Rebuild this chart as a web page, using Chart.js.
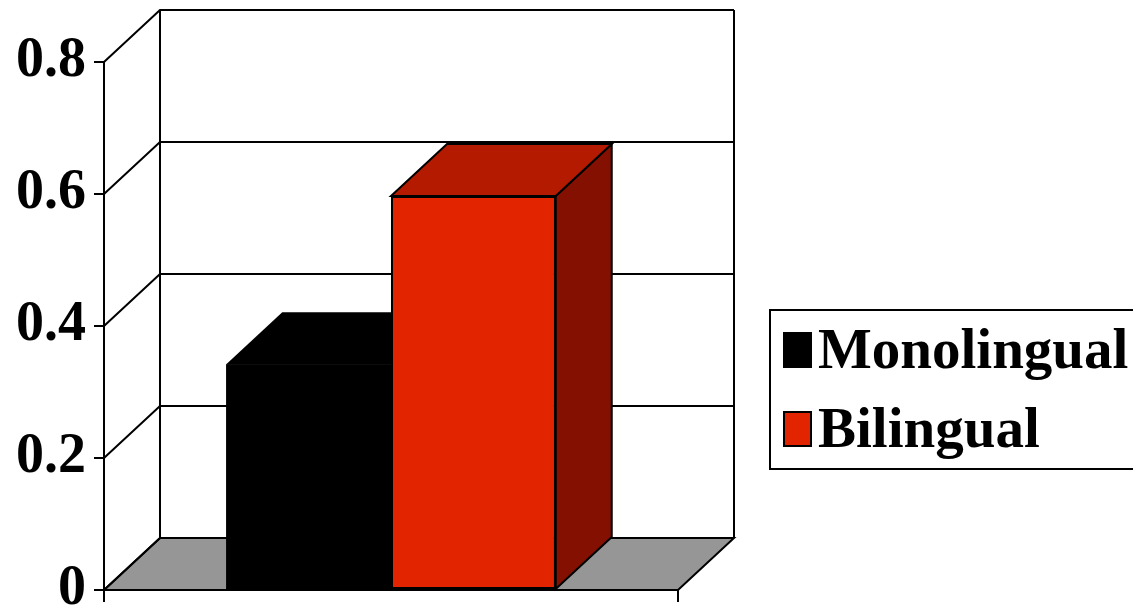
<!DOCTYPE html>
<html>
<head>
<meta charset="utf-8">
<script src="https://cdn.jsdelivr.net/npm/chart.js@4/dist/chart.umd.min.js"></script>
<style>
  html, body { margin: 0; padding: 0; background: #ffffff; overflow: hidden; }
  #wrap { width: 1133px; height: 608px; }
</style>
</head>
<body>
<div id="wrap"><canvas id="c" width="1133" height="608"></canvas></div>
<script>
// Data
const categories = [''];
const seriesNames = ['Monolingual', 'Bilingual'];
const monolingual = [0.342];
const bilingual = [0.597];
const yTickLabels = ['0', '0.2', '0.4', '0.6', '0.8'];

// Styling
const FONT = '"Liberation Serif", "Times New Roman", serif';
const DEPTH_X = 56;    // horizontal shift of the back plane
const DEPTH_Y = -52;   // vertical shift of the back plane
const faces = [
  { front: '#000000', top: '#000000', side: '#000000' },
  { front: '#e32400', top: '#b31a00', side: '#831000' }
];

function poly(ctx, pts, fill, stroke, lw) {
  ctx.beginPath();
  ctx.moveTo(pts[0][0], pts[0][1]);
  for (let i = 1; i < pts.length; i++) ctx.lineTo(pts[i][0], pts[i][1]);
  ctx.closePath();
  if (fill) { ctx.fillStyle = fill; ctx.fill(); }
  if (stroke) { ctx.strokeStyle = stroke; ctx.lineWidth = lw; ctx.lineJoin = 'miter'; ctx.stroke(); }
}

// Walls, floor and gridlines of the 3-D box
const wallsPlugin = {
  id: 'walls',
  beforeDraw(chart) {
    const ctx = chart.ctx;
    const { left, right } = chart.chartArea;
    const ys = chart.scales.y;
    const y0 = ys.getPixelForValue(ys.min);
    const yMax = ys.getPixelForValue(ys.max);
    ctx.save();
    ctx.fillStyle = '#ffffff';
    ctx.fillRect(0, 0, chart.width, chart.height);

    // floor
    poly(ctx, [[left, y0], [right, y0], [right + DEPTH_X, y0 + DEPTH_Y], [left + DEPTH_X, y0 + DEPTH_Y]],
      '#969696', '#000000', 2);

    // gridlines on the side and back walls
    ctx.strokeStyle = '#000000';
    ctx.lineWidth = 2;
    ys.ticks.forEach(t => {
      const py = ys.getPixelForValue(t.value);
      ctx.beginPath();
      ctx.moveTo(left, py);
      ctx.lineTo(left + DEPTH_X, py + DEPTH_Y);
      ctx.lineTo(right + DEPTH_X, py + DEPTH_Y);
      ctx.stroke();
    });
    // back wall frame
    ctx.beginPath();
    ctx.moveTo(left + DEPTH_X, y0 + DEPTH_Y);
    ctx.lineTo(left + DEPTH_X, yMax + DEPTH_Y);
    ctx.moveTo(right + DEPTH_X, yMax + DEPTH_Y);
    ctx.lineTo(right + DEPTH_X, y0 + DEPTH_Y);
    ctx.stroke();
    ctx.restore();
  }
};

// Solid boxes: front face from the bar element, then its side and top faces,
// series by series from left to right so nearer boxes overlap correctly
const extrudePlugin = {
  id: 'extrude',
  afterDatasetsDraw(chart) {
    const ctx = chart.ctx;
    chart.data.datasets.forEach((ds, i) => {
      const meta = chart.getDatasetMeta(i);
      const f = faces[i];
      const stroke = ds.borderWidth > 0 ? '#000000' : null;
      meta.data.forEach(el => {
        const { x, y, base, width } = el.getProps(['x', 'y', 'base', 'width'], true);
        const l = x - width / 2, r = x + width / 2;
        ctx.save();
        poly(ctx, [[r, y], [r + DEPTH_X, y + DEPTH_Y], [r + DEPTH_X, base + DEPTH_Y], [r, base]],
          f.side, stroke, 2);
        poly(ctx, [[l, y], [r, y], [r + DEPTH_X, y + DEPTH_Y], [l + DEPTH_X, y + DEPTH_Y]],
          f.top, stroke, 2);
        ctx.restore();
        el.draw(ctx, chart.chartArea);
      });
    });
  }
};

// Boxed legend at the right
const legendBoxPlugin = {
  id: 'legendBox',
  afterDraw(chart) {
    const ctx = chart.ctx;
    ctx.save();
    ctx.strokeStyle = '#000000';
    ctx.lineWidth = 2;
    ctx.strokeRect(770, 310, 400, 159);
    ctx.font = 'bold 57px ' + FONT;
    ctx.textBaseline = 'alphabetic';
    ctx.textAlign = 'left';
    const rows = [368, 447];
    chart.data.datasets.forEach((ds, i) => {
      const base = rows[i];
      ctx.fillStyle = faces[i].front;
      ctx.fillRect(783, base - 36, 29, 36);
      ctx.strokeStyle = '#000000';
      ctx.lineWidth = 2;
      ctx.strokeRect(784, base - 35, 27, 34);
      ctx.fillStyle = '#000000';
      ctx.fillText(ds.label, 818, base);
    });
    ctx.restore();
  }
};

new Chart(document.getElementById('c'), {
  type: 'bar',
  data: {
    labels: categories,
    datasets: [
      { label: seriesNames[0], data: monolingual, backgroundColor: faces[0].front,
        borderColor: '#000000', borderWidth: 0 },
      { label: seriesNames[1], data: bilingual, backgroundColor: faces[1].front,
        borderColor: '#000000', borderWidth: 2 }
    ]
  },
  options: {
    responsive: false,
    animation: false,
    events: [],
    layout: { padding: { top: 62, right: 455, bottom: 6, left: 0 } },
    datasets: { bar: { categoryPercentage: 0.574, barPercentage: 1.0, borderSkipped: false } },
    plugins: { legend: { display: false }, tooltip: { enabled: false } },
    scales: {
      x: {
        offset: true,
        grid: { display: true, offset: true, drawOnChartArea: false, drawTicks: true,
                tickLength: 12, color: '#000000', lineWidth: 2 },
        border: { display: true, color: '#000000', width: 2 },
        ticks: { display: false }
      },
      y: {
        min: 0, max: 0.8,
        ticks: {
          stepSize: 0.2,
          padding: 8,
          color: '#000000',
          font: { family: FONT, size: 56, weight: 'bold' },
          callback: (v, i) => yTickLabels[i]
        },
        grid: { drawOnChartArea: false, drawTicks: true, tickLength: 10, color: '#000000', lineWidth: 2 },
        border: { display: true, color: '#000000', width: 2 },
        afterFit(scale) {
          scale.width = 104;
          scale.paddingTop = 0;
          scale.paddingBottom = 0;
        }
      }
    }
  },
  plugins: [wallsPlugin, extrudePlugin, legendBoxPlugin]
});
</script>
</body>
</html>
